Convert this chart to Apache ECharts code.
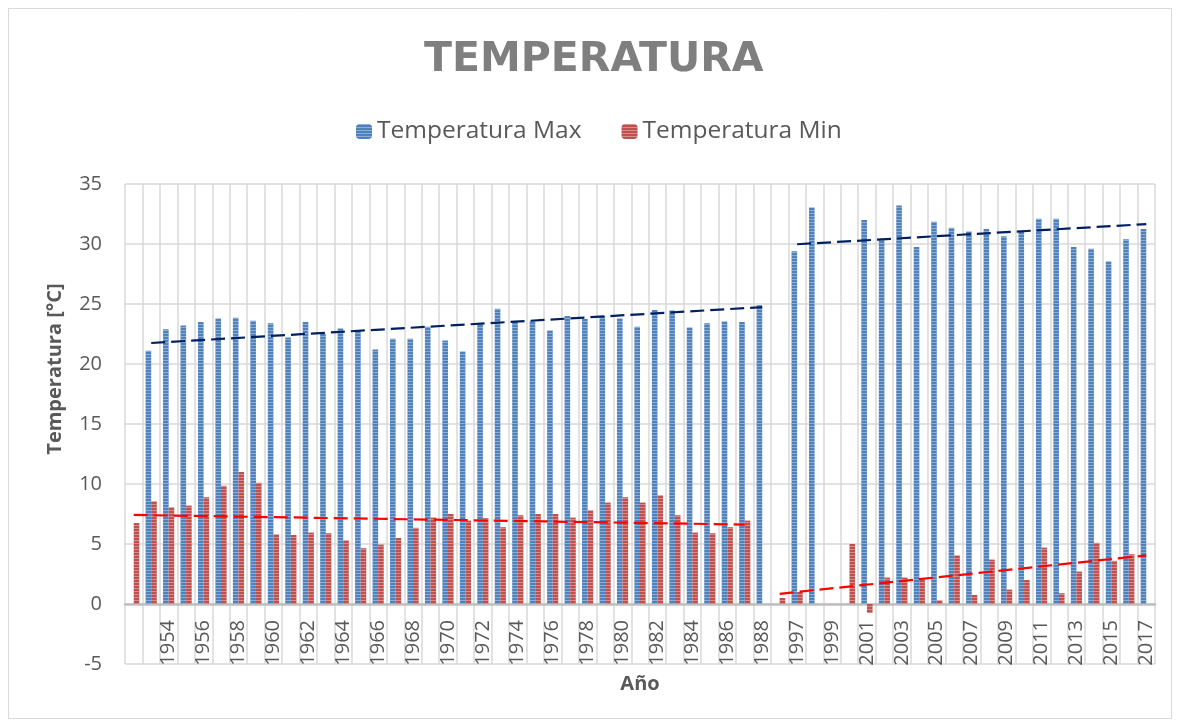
<!DOCTYPE html>
<html>
<head>
<meta charset="utf-8">
<script src="https://cdn.jsdelivr.net/npm/echarts@6/dist/echarts.min.js"></script>
<style>
html,body{margin:0;padding:0;background:#fff;}
#chart{width:1181px;height:728px;}
</style>
</head>
<body>
<div id="chart"></div>
<script>
const years = ['1952','1953','1954','1955','1956','1957','1958','1959','1960','1961','1962','1963','1964','1965','1966','1967','1968','1969','1970','1971','1972','1973','1974','1975','1976','1977','1978','1979','1980','1981','1982','1983','1984','1985','1986','1987','1988','1996','1997','1998','1999','2000','2001','2002','2003','2004','2005','2006','2007','2008','2009','2010','2011','2012','2013','2014','2015','2016','2017'];

const tempMax = [null,21.1,22.9,23.2,23.5,23.8,23.85,23.6,23.4,22.2,23.5,22.5,22.95,22.8,21.2,22.1,22.1,23.1,21.95,21.05,23.35,24.6,23.5,23.55,22.8,24.0,23.75,24.0,23.8,23.1,24.5,24.45,23.05,23.4,23.55,23.5,24.9,null,29.4,33.05,null,null,32.0,30.35,33.2,29.75,31.85,31.35,31.05,31.25,30.65,31.1,32.1,32.1,29.75,29.6,28.55,30.4,31.25];

const tempMin = [6.75,8.55,8.05,8.2,8.9,9.85,11.0,10.1,5.8,5.75,5.95,5.9,5.3,4.65,4.95,5.5,6.35,7.2,7.5,6.95,7.15,6.4,7.4,7.5,7.5,7.2,7.8,8.45,8.9,8.45,9.05,7.4,5.95,5.9,6.4,6.95,null,0.5,1.0,null,null,5.0,-0.75,2.2,2.2,2.1,0.3,4.05,0.75,3.7,1.2,2.0,4.7,0.9,2.7,5.1,3.6,4.15,null];

// trend line end points
const trendMaxEarly = [['1953',21.75],['1988',24.74]];
const trendMaxLate  = [['1997',29.98],['2017',31.66]];
const trendMinEarly = [['1952',7.42],['1987',6.62]];
const trendMinLate  = [['1996',0.85],['2017',4.05]];

const yTicks = {min:-5, max:35, interval:5};

const chart = echarts.init(document.getElementById('chart'), null, {renderer:'canvas'});
const font = 'Open Sans';
const stripe = {symbol:'rect', symbolSize:1, dashArrayX:[[1,0]], dashArrayY:[1,1.5], rotation:0, color:'rgba(255,255,255,0.35)'};

// grid geometry
const gridTop = 184, gridBottom = 64, gridHeight = 728 - gridTop - gridBottom;
const zeroOffset = -gridHeight * (0 - yTicks.min) / (yTicks.max - yTicks.min);

chart.setOption({
  animation:false,
  backgroundColor:'#ffffff',
  title:{
    text:'TEMPERATURA', left:419, top:35,
    textStyle:{fontFamily:'DejaVu Sans', fontWeight:'bold', fontSize:41, color:'#7f7f7f'}
  },
  legend:{
    data:['Temperatura Max','Temperatura Min'],
    top:114, left:351,
    itemWidth:16, itemHeight:15, itemGap:40,
    textStyle:{fontFamily:font, fontSize:24.5, color:'#595959'}
  },
  graphic:[
    {type:'rect', shape:{x:8.5,y:8.5,width:1163,height:710}, style:{fill:'none', stroke:'#d9d9d9', lineWidth:1}, silent:true, z:-1},
    {type:'text', x:55, y:369, rotation:Math.PI/2,
     style:{text:'Temperatura [°C]', fontFamily:font, fontWeight:'bold', fontSize:20, fill:'#595959', align:'center', verticalAlign:'middle'}}
  ],
  grid:{left:125, right:26, top:gridTop, bottom:gridBottom, containLabel:false, outerBoundsMode:'none'},
  xAxis:{
    type:'category', data:years, boundaryGap:true,
    offset:zeroOffset,
    name:'Año', nameLocation:'middle', nameGap:70,
    nameTextStyle:{fontFamily:font, fontWeight:'bold', fontSize:20, color:'#595959'},
    axisLine:{show:true, onZero:false, lineStyle:{color:'#bfbfbf', width:2.5}},
    axisTick:{show:false},
    axisLabel:{
      rotate:90, margin:16, fontFamily:font, fontSize:20, color:'#595959',
      interval:function(i){return i>0 && i%2===0;}
    },
    splitLine:{show:true, interval:0, lineStyle:{color:'#d9d9d9', width:1.5}}
  },
  yAxis:{
    type:'value', min:yTicks.min, max:yTicks.max, interval:yTicks.interval,
    axisLine:{show:false}, axisTick:{show:false},
    axisLabel:{margin:23, fontFamily:font, fontSize:20, color:'#595959'},
    splitLine:{show:true, lineStyle:{color:'#d9d9d9', width:1.5}}
  },
  series:[
    {name:'Temperatura Max', type:'bar', data:tempMax, barGap:'0%', barCategoryGap:'36%',
     itemStyle:{color:'#4f81bd', decal:stripe}},
    {name:'Temperatura Min', type:'bar', data:tempMin,
     itemStyle:{color:'#c0504d', decal:stripe}},
    {name:'Tendencia Max 1', type:'line', data:trendMaxEarly, symbol:'none', z:5,
     lineStyle:{color:'#002060', width:2.2, type:[14,6]}},
    {name:'Tendencia Max 2', type:'line', data:trendMaxLate, symbol:'none', z:5,
     lineStyle:{color:'#002060', width:2.2, type:[14,6]}},
    {name:'Tendencia Min 1', type:'line', data:trendMinEarly, symbol:'none', z:5,
     lineStyle:{color:'#ff0000', width:2.2, type:[14,6]}},
    {name:'Tendencia Min 2', type:'line', data:trendMinLate, symbol:'none', z:5,
     lineStyle:{color:'#ff0000', width:2.2, type:[14,6]}}
  ]
});
</script>
</body>
</html>
